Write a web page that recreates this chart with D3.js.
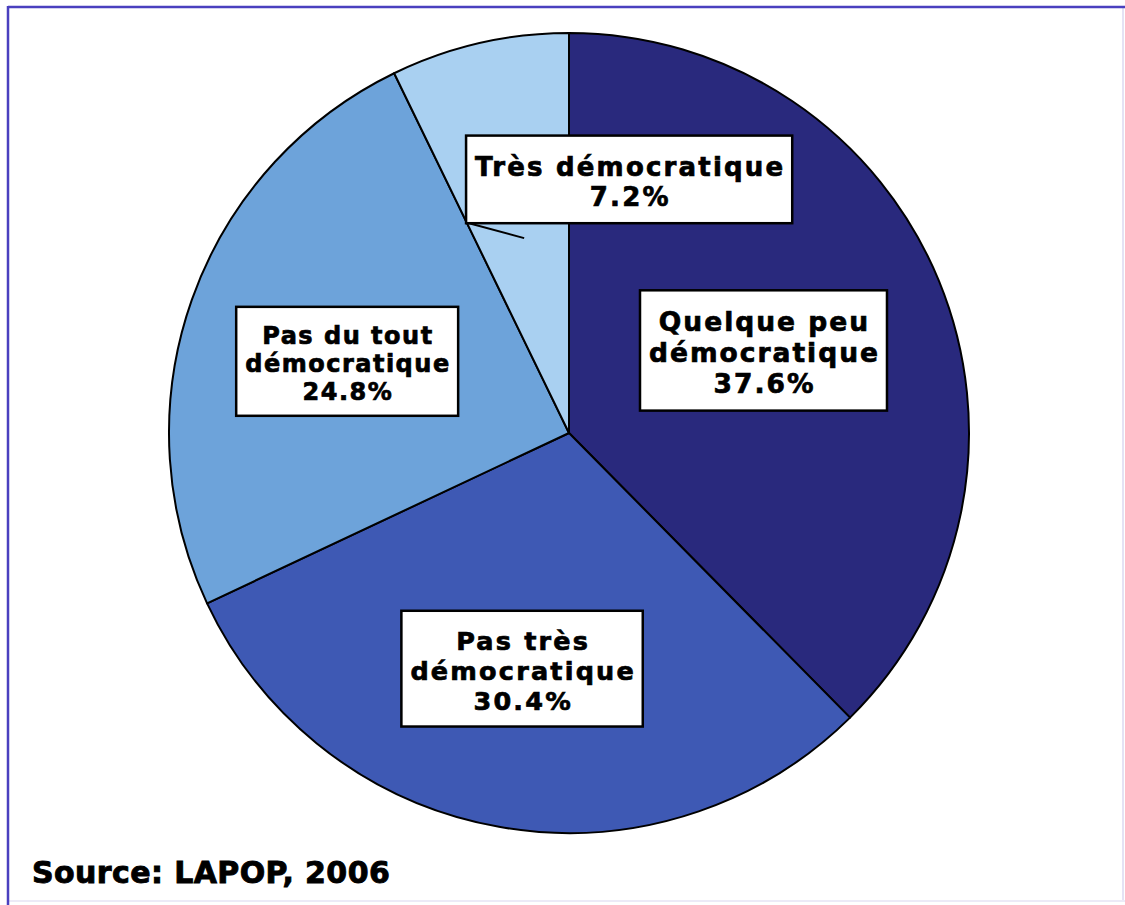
<!DOCTYPE html>
<html>
<head>
<meta charset="utf-8">
<script src="https://cdn.jsdelivr.net/npm/d3@7"></script>
<style>
  html, body { margin: 0; padding: 0; background: #ffffff; }
  svg text { font-family: "DejaVu Sans", sans-serif; font-weight: bold; fill: #000;
    stroke: #000; stroke-width: 0.7px; }
</style>
</head>
<body>
<div id="chart"></div>
<script>
var width = 1125,
	height = 905;

// data
var categories = [
	["Quelque peu", "démocratique"],
	["Pas très", "démocratique"],
	["Pas du tout", "démocratique"],
	["Très démocratique"]
];
var values = [37.6, 30.4, 24.8, 7.2];
var valueLabels = ["37.6%", "30.4%", "24.8%", "7.2%"];
var sourceText = "Source: LAPOP, 2006";

// styling / layout
var colors = ["#29297d", "#3e59b4", "#6da3da", "#a9d0f1"];
var labelRadius = [207, 251, 231, 200];
var labelNudge = [[3, 8], [-3, 0], [-4, 16], [105, -47]];
var fontSizes = [26.5, 25.5, 24, 26];
var letterSp = [2, 2.2, 1.5, 2.2];
var cx = 569, cy = 433, radius = 400;

var svg = d3.select("#chart")
	.append("svg")
	.attr("width", width)
	.attr("height", height);

// frame
svg.append("line").attr("x1", 1123).attr("y1", 7).attr("x2", 1123).attr("y2", 900)
	.attr("stroke", "#e4e2f4").attr("stroke-width", 2);
svg.append("line").attr("x1", 8).attr("y1", 901).attr("x2", 1125).attr("y2", 901)
	.attr("stroke", "#eceaf7").attr("stroke-width", 2);
svg.append("line").attr("x1", 8).attr("y1", 7).attr("x2", 1125).attr("y2", 7)
	.attr("stroke", "#4a40bf").attr("stroke-width", 2.5);
svg.append("line").attr("x1", 8).attr("y1", 6).attr("x2", 8).attr("y2", 905)
	.attr("stroke", "#4a40bf").attr("stroke-width", 2.5);

var pie = d3.pie().sort(null).value(function (d) { return d; });
var arcs = pie(values);

var arc = d3.arc().innerRadius(0).outerRadius(radius);

var pieG = svg.append("g")
	.attr("transform", "translate(" + cx + "," + cy + ")");

pieG.selectAll("path.slice")
	.data(arcs)
	.enter()
	.append("path")
	.attr("class", "slice")
	.attr("d", arc)
	.attr("fill", function (d, i) { return colors[i]; })
	.attr("stroke", "#000")
	.attr("stroke-width", 2)
	.attr("stroke-linejoin", "round");

function labelPoint(d, i) {
	var a = d3.arc().innerRadius(labelRadius[i]).outerRadius(labelRadius[i]);
	return a.centroid(d);
}

var labels = pieG.selectAll("g.label")
	.data(arcs)
	.enter()
	.append("g")
	.attr("class", "label");

labels.each(function (d, i) {
	var g = d3.select(this);
	var p = labelPoint(d, i);
	var lx = p[0] + labelNudge[i][0], ly = p[1] + labelNudge[i][1];

	var fs = fontSizes[i];
	var lines = categories[i].concat([valueLabels[i]]);
	var lh = fs * 1.17;

	var box = g.append("rect").attr("fill", "#fff").attr("stroke", "#000").attr("stroke-width", 2.5);

	var minX = Infinity, maxX = -Infinity;
	lines.forEach(function (s, k) {
		var t = g.append("text")
			.attr("text-anchor", "middle")
			.attr("x", lx + letterSp[i] / 2)
			.attr("y", ly + (k - (lines.length - 1) / 2) * lh)
			.style("font-size", fs + "px")
			.style("letter-spacing", letterSp[i] + "px")
			.text(s);
		var bb = t.node().getBBox();
		minX = Math.min(minX, bb.x);
		maxX = Math.max(maxX, bb.x + bb.width - letterSp[i]);
	});

	var firstBase = ly - (lines.length - 1) / 2 * lh;
	var lastBase = ly + (lines.length - 1) / 2 * lh;
	var padX = 9;
	var top = firstBase - fs * 1.55, bottom = lastBase + fs * 0.65;
	box.attr("x", minX - padX).attr("y", top)
		.attr("width", maxX - minX + 2 * padX).attr("height", bottom - top);

	// leader line for the label that sits outside its slice
	if (i === 3) {
		g.insert("line", "rect")
			.attr("x1", minX - padX + 3).attr("y1", bottom)
			.attr("x2", p[0]).attr("y2", p[1])
			.attr("stroke", "#000").attr("stroke-width", 2);
	}
});

svg.append("text")
	.attr("x", 32)
	.attr("y", 883)
	.style("font-size", "30px")
	.style("letter-spacing", "0.4px")
	.style("stroke-width", "0.9px")
	.text(sourceText);
</script>
</body>
</html>
